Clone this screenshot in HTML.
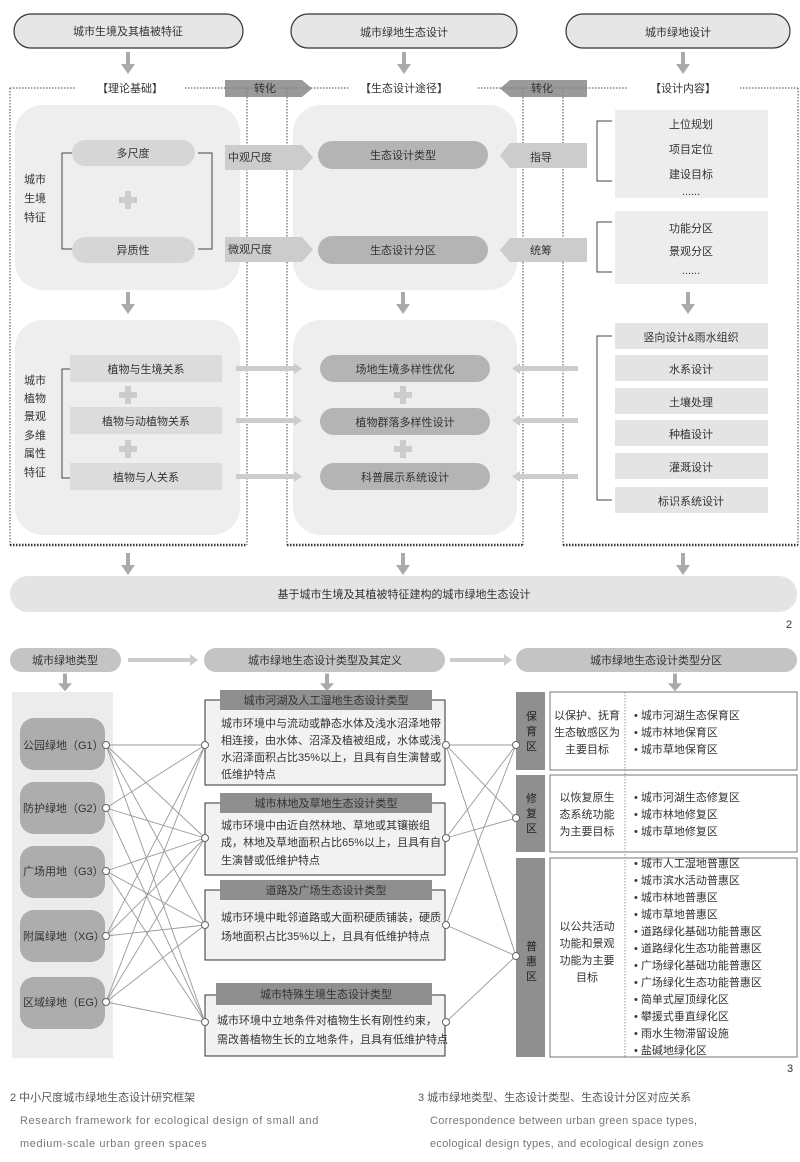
<!DOCTYPE html>
<html><head><meta charset="utf-8"><style>
body{margin:0;background:#fff}
svg{display:block}
text{font-family:"Liberation Sans","Noto Sans CJK SC",sans-serif;fill:#333;font-size:11px}
.c{text-anchor:middle}
</style></head><body>
<svg width="800" height="1162" viewBox="0 0 800 1162" xmlns="http://www.w3.org/2000/svg">
<defs>
<marker id="ah" markerWidth="6" markerHeight="6" refX="5" refY="3" orient="auto"><path d="M0,0L6,3L0,6z" fill="#aaa"/></marker>
<g id="dn"><rect x="-2" y="0" width="4" height="14" fill="#aaa"/><path d="M-7,12L7,12L0,22z" fill="#aaa"/></g>
<g id="plus"><rect x="-3" y="-9" width="6" height="18" fill="#ccc"/><rect x="-9" y="-3" width="18" height="6" fill="#ccc"/></g>
</defs>
<!-- top pills -->
<rect x="14" y="14" width="229" height="34" rx="17" fill="#e6e6e6" stroke="#333" stroke-width="1.2"/>
<text class="c" x="128" y="35">城市生境及其植被特征</text>
<rect x="291" y="14" width="226" height="34" rx="17" fill="#e6e6e6" stroke="#333" stroke-width="1.2"/>
<text class="c" x="404" y="36">城市绿地生态设计</text>
<rect x="566" y="14" width="224" height="34" rx="17" fill="#e6e6e6" stroke="#333" stroke-width="1.2"/>
<text class="c" x="678" y="36">城市绿地设计</text>
<use href="#dn" x="128" y="52"/><use href="#dn" x="404" y="52"/><use href="#dn" x="683" y="52"/>
<!-- dotted header line -->
<g stroke="#444" stroke-dasharray="1.5,1.5" fill="none">
<line x1="10" y1="88" x2="75" y2="88"/><line x1="185" y1="88" x2="350" y2="88"/><line x1="478" y1="88" x2="628" y2="88"/><line x1="740" y1="88" x2="798" y2="88"/>
<line x1="10" y1="88" x2="10" y2="545"/><line x1="247" y1="88" x2="247" y2="545"/>
<line x1="287" y1="88" x2="287" y2="545"/><line x1="523" y1="88" x2="523" y2="545"/>
<line x1="563" y1="88" x2="563" y2="545"/><line x1="798" y1="88" x2="798" y2="545"/>
</g>
<g stroke="#333" stroke-width="2.5" stroke-dasharray="1.5,1.5"><line x1="10" y1="545" x2="247" y2="545"/><line x1="287" y1="545" x2="523" y2="545"/><line x1="563" y1="545" x2="798" y2="545"/></g>
<text class="c" x="130" y="92">【理论基础】</text><text class="c" x="404" y="92">【生态设计途径】</text><text class="c" x="683" y="92">【设计内容】</text>
<path d="M225,80H302L312,88.5L302,97H225z" fill="#888" opacity=".85"/><text class="c" x="265" y="92">转化</text>
<path d="M587,80H510L500,88.5L510,97H587z" fill="#888" opacity=".85"/><text class="c" x="542" y="92">转化</text>
<!-- light panels -->
<rect x="15" y="105" width="225" height="185" rx="28" fill="#eeeeee"/>
<rect x="293" y="105" width="224" height="185" rx="28" fill="#eeeeee"/>
<rect x="15" y="320" width="225" height="215" rx="28" fill="#eeeeee"/>
<rect x="293" y="320" width="224" height="215" rx="28" fill="#eeeeee"/>
<!-- upper left -->
<rect x="72" y="140" width="123" height="26" rx="13" fill="#d6d6d6"/><text class="c" x="133" y="157">多尺度</text>
<rect x="72" y="237" width="123" height="26" rx="13" fill="#d6d6d6"/><text class="c" x="133" y="254">异质性</text>
<path d="M72,153H62V249H72M198,153H212V249H198" fill="none" stroke="#444"/>
<use href="#plus" x="128" y="200"/>
<text x="24" y="183">城市</text><text x="24" y="202">生境</text><text x="24" y="221">特征</text>
<path d="M225,145H302L313,157.5L302,170H225z" fill="#ccc"/><text x="228" y="161">中观尺度</text>
<path d="M225,237H302L313,249.5L302,262H225z" fill="#ccc"/><text x="228" y="253">微观尺度</text>
<rect x="318" y="141" width="170" height="28" rx="14" fill="#b4b4b4"/><text class="c" x="403" y="159">生态设计类型</text>
<rect x="318" y="236" width="170" height="28" rx="14" fill="#b4b4b4"/><text class="c" x="403" y="254">生态设计分区</text>
<path d="M587,143H510L500,155.5L510,168H587z" fill="#ccc"/><text x="530" y="161">指导</text>
<path d="M587,238H510L500,250L510,262H587z" fill="#ccc"/><text x="530" y="254">统筹</text>
<rect x="615" y="110" width="153" height="88" fill="#ededed"/>
<text class="c" x="691" y="128">上位规划</text><text class="c" x="691" y="153">项目定位</text><text class="c" x="691" y="178">建设目标</text><text class="c" x="691" y="195" font-size="8">......</text>
<rect x="615" y="211" width="153" height="73" fill="#ededed"/>
<text class="c" x="691" y="232">功能分区</text><text class="c" x="691" y="255">景观分区</text><text class="c" x="691" y="274" font-size="8">......</text>
<path d="M612,121H597V181H612M612,222H597V272H612" fill="none" stroke="#444"/>
<use href="#dn" x="128" y="292"/><use href="#dn" x="403" y="292"/><use href="#dn" x="688" y="292"/>
<!-- lower -->
<text x="24" y="384">城市</text><text x="24" y="402">植物</text><text x="24" y="420">景观</text><text x="24" y="439">多维</text><text x="24" y="457">属性</text><text x="24" y="476">特征</text>
<path d="M70,369H62V478H70" fill="none" stroke="#444"/>
<rect x="70" y="355" width="152" height="27" fill="#dcdcdc"/><text class="c" x="146" y="373">植物与生境关系</text>
<rect x="70" y="407" width="152" height="27" fill="#dcdcdc"/><text class="c" x="146" y="425">植物与动植物关系</text>
<rect x="70" y="463" width="152" height="27" fill="#dcdcdc"/><text class="c" x="146" y="481">植物与人关系</text>
<use href="#plus" x="128" y="395"/><use href="#plus" x="128" y="449"/>
<rect x="320" y="355" width="170" height="27" rx="13.5" fill="#b4b4b4"/><text class="c" x="405" y="373">场地生境多样性优化</text>
<rect x="320" y="408" width="170" height="27" rx="13.5" fill="#b4b4b4"/><text class="c" x="405" y="426">植物群落多样性设计</text>
<rect x="320" y="463" width="170" height="27" rx="13.5" fill="#b4b4b4"/><text class="c" x="405" y="481">科普展示系统设计</text>
<use href="#plus" x="403" y="395"/><use href="#plus" x="403" y="449"/>
<g fill="#ccc"><path d="M236,366H294V363L302,368.5L294,374V371H236z"/><path d="M236,418H294V415L302,420.5L294,426V423H236z"/><path d="M236,474H294V471L302,476.5L294,482V479H236z"/>
<path d="M578,366H520V363L512,368.5L520,374V371H578z"/><path d="M578,418H520V415L512,420.5L520,426V423H578z"/><path d="M578,474H520V471L512,476.5L520,482V479H578z"/></g>
<g fill="#e4e4e4"><rect x="615" y="323" width="153" height="26"/><rect x="615" y="355" width="153" height="26"/><rect x="615" y="388" width="153" height="26"/><rect x="615" y="420" width="153" height="26"/><rect x="615" y="453" width="153" height="26"/><rect x="615" y="487" width="153" height="26"/></g>
<text class="c" x="691" y="341">竖向设计&amp;雨水组织</text><text class="c" x="691" y="373">水系设计</text><text class="c" x="691" y="406">土壤处理</text><text class="c" x="691" y="438">种植设计</text><text class="c" x="691" y="471">灌溉设计</text><text class="c" x="691" y="505">标识系统设计</text>
<path d="M612,336H597V500H612" fill="none" stroke="#444"/>
<use href="#dn" x="128" y="553"/><use href="#dn" x="403" y="553"/><use href="#dn" x="683" y="553"/>
<rect x="10" y="576" width="787" height="36" rx="18" fill="#e4e4e4"/>
<text class="c" x="404" y="598">基于城市生境及其植被特征建构的城市绿地生态设计</text>
<text x="786" y="628" font-size="12">2</text>
<!-- second diagram -->
<rect x="10" y="648" width="111" height="24" rx="12" fill="#c4c4c4"/><text class="c" x="65" y="664" font-size="10">城市绿地类型</text>
<path d="M128,658H190V654L198,660L190,666V662H128z" fill="#ccc"/>
<rect x="204" y="648" width="241" height="24" rx="12" fill="#c4c4c4"/><text class="c" x="325" y="664" font-size="10">城市绿地生态设计类型及其定义</text>
<path d="M450,658H504V654L512,660L504,666V662H450z" fill="#ccc"/>
<rect x="516" y="648" width="281" height="24" rx="12" fill="#c4c4c4"/><text class="c" x="656" y="664" font-size="10">城市绿地生态设计类型分区</text>
<g transform="scale(1,0.8)"><use href="#dn" x="65" y="842"/><use href="#dn" x="327" y="842"/><use href="#dn" x="675" y="842"/></g>
<rect x="12" y="692" width="101" height="366" fill="#ececec"/>
<g fill="#adadad"><rect x="20" y="718" width="85" height="52" rx="14"/><rect x="20" y="782" width="85" height="52" rx="14"/><rect x="20" y="846" width="85" height="52" rx="14"/><rect x="20" y="910" width="85" height="52" rx="14"/><rect x="20" y="977" width="85" height="52" rx="14"/></g>
<g font-size="9.5"><text x="23" y="749">公园绿地（G1）</text><text x="23" y="812">防护绿地（G2）</text><text x="23" y="875">广场用地（G3）</text><text x="23" y="940">附属绿地（XG）</text><text x="23" y="1006">区域绿地（EG）</text></g>
<!-- middle boxes -->
<g fill="#f2f2f2" stroke="#333"><rect x="205" y="700" width="240" height="85"/><rect x="205" y="803" width="240" height="72"/><rect x="205" y="890" width="240" height="70"/><rect x="205" y="995" width="240" height="61"/></g>
<g fill="#8f8f8f"><rect x="220" y="690" width="212" height="20"/><rect x="220" y="793" width="212" height="20"/><rect x="220" y="880" width="212" height="20"/><rect x="216" y="983" width="216" height="22"/></g>
<g font-size="9.5"><text class="c" x="326" y="704">城市河湖及人工湿地生态设计类型</text><text class="c" x="326" y="807">城市林地及草地生态设计类型</text><text class="c" x="326" y="894">道路及广场生态设计类型</text><text class="c" x="326" y="998">城市特殊生境生态设计类型</text>
<text x="221" y="727">城市环境中与流动或静态水体及浅水沼泽地带</text><text x="221" y="744">相连接，由水体、沼泽及植被组成，水体或浅</text><text x="221" y="761">水沼泽面积占比35%以上，且具有自生演替或</text><text x="221" y="778">低维护特点</text>
<text x="221" y="829">城市环境中由近自然林地、草地或其镶嵌组</text><text x="221" y="846">成，林地及草地面积占比65%以上，且具有自</text><text x="221" y="864">生演替或低维护特点</text>
<text x="221" y="921">城市环境中毗邻道路或大面积硬质铺装，硬质</text><text x="221" y="940">场地面积占比35%以上，且具有低维护特点</text>
<text x="217" y="1024">城市环境中立地条件对植物生长有刚性约束，</text><text x="217" y="1043">需改善植物生长的立地条件，且具有低维护特点</text></g>
<!-- right -->
<g fill="#8f8f8f"><rect x="516" y="692" width="29" height="78"/><rect x="516" y="775" width="29" height="77"/><rect x="516" y="858" width="29" height="199"/></g>
<g font-size="10" fill="#fff"><text x="526" y="720" style="fill:#222">保</text><text x="526" y="735" style="fill:#222">育</text><text x="526" y="750" style="fill:#222">区</text>
<text x="526" y="802" style="fill:#222">修</text><text x="526" y="817" style="fill:#222">复</text><text x="526" y="832" style="fill:#222">区</text>
<text x="526" y="950" style="fill:#222">普</text><text x="526" y="965" style="fill:#222">惠</text><text x="526" y="980" style="fill:#222">区</text></g>
<g fill="#fff" stroke="#777"><rect x="550" y="692" width="247" height="78"/><rect x="550" y="775" width="247" height="77"/><rect x="550" y="858" width="247" height="199"/></g>
<line x1="625" y1="692" x2="625" y2="1057" stroke="#999" stroke-dasharray="1.5,1.5"/>
<g font-size="9.5"><text class="c" x="587" y="719">以保护、抚育</text><text class="c" x="587" y="736">生态敏感区为</text><text class="c" x="587" y="753">主要目标</text>
<text class="c" x="587" y="801">以恢复原生</text><text class="c" x="587" y="818">态系统功能</text><text class="c" x="587" y="835">为主要目标</text>
<text class="c" x="587" y="930">以公共活动</text><text class="c" x="587" y="947">功能和景观</text><text class="c" x="587" y="964">功能为主要</text><text class="c" x="587" y="981">目标</text>
<text x="634" y="719">•  城市河湖生态保育区</text><text x="634" y="736">•  城市林地保育区</text><text x="634" y="753">•  城市草地保育区</text>
<text x="634" y="801">•  城市河湖生态修复区</text><text x="634" y="818">•  城市林地修复区</text><text x="634" y="835">•  城市草地修复区</text>
<text x="634" y="867">•  城市人工湿地普惠区</text><text x="634" y="884">•  城市滨水活动普惠区</text><text x="634" y="901">•  城市林地普惠区</text><text x="634" y="918">•  城市草地普惠区</text><text x="634" y="935">•  道路绿化基础功能普惠区</text><text x="634" y="952">•  道路绿化生态功能普惠区</text><text x="634" y="969">•  广场绿化基础功能普惠区</text><text x="634" y="986">•  广场绿化生态功能普惠区</text><text x="634" y="1003">•  简单式屋顶绿化区</text><text x="634" y="1020">•  攀援式垂直绿化区</text><text x="634" y="1037">•  雨水生物滞留设施</text><text x="634" y="1054">•  盐碱地绿化区</text></g>
<!-- connectors -->
<g stroke="#999" stroke-width="0.9" fill="none">
<path d="M106,745L205,745M106,745L205,838M106,745L205,925M106,745L205,1022
M106,808L205,745M106,808L205,838M106,808L205,1022
M106,871L205,838M106,871L205,925M106,871L205,1022
M106,936L205,745M106,936L205,838M106,936L205,925
M106,1002L205,745M106,1002L205,838M106,1002L205,925M106,1002L205,1022
M446,745L516,745M446,745L516,818M446,745L516,956M446,838L516,745M446,838L516,818M446,925L516,745M446,925L516,956M446,1022L516,956"/>
</g>
<g fill="#fff" stroke="#666"><circle cx="106" cy="745" r="3.5"/><circle cx="106" cy="808" r="3.5"/><circle cx="106" cy="871" r="3.5"/><circle cx="106" cy="936" r="3.5"/><circle cx="106" cy="1002" r="3.5"/>
<circle cx="205" cy="745" r="3.5"/><circle cx="205" cy="838" r="3.5"/><circle cx="205" cy="925" r="3.5"/><circle cx="205" cy="1022" r="3.5"/>
<circle cx="446" cy="745" r="3.5"/><circle cx="446" cy="838" r="3.5"/><circle cx="446" cy="925" r="3.5"/><circle cx="446" cy="1022" r="3.5"/>
<circle cx="516" cy="745" r="3.5"/><circle cx="516" cy="818" r="3.5"/><circle cx="516" cy="956" r="3.5"/></g>
<text x="787" y="1072" font-size="11">3</text>
<!-- captions -->
<text x="10" y="1101" font-size="12.5" style="fill:#555">2 中小尺度城市绿地生态设计研究框架</text>
<text x="20" y="1124" font-size="12.5" style="fill:#777;letter-spacing:0.6px">Research framework for ecological design of small and</text>
<text x="20" y="1147" font-size="12.5" style="fill:#777;letter-spacing:0.6px">medium-scale urban green spaces</text>
<text x="418" y="1101" font-size="12.5" style="fill:#555">3 城市绿地类型、生态设计类型、生态设计分区对应关系</text>
<text x="430" y="1124" font-size="12.5" style="fill:#777;letter-spacing:0.3px">Correspondence between urban green space types,</text>
<text x="430" y="1147" font-size="12.5" style="fill:#777;letter-spacing:0.3px">ecological design types, and ecological design zones</text>
</svg>
</body></html>
